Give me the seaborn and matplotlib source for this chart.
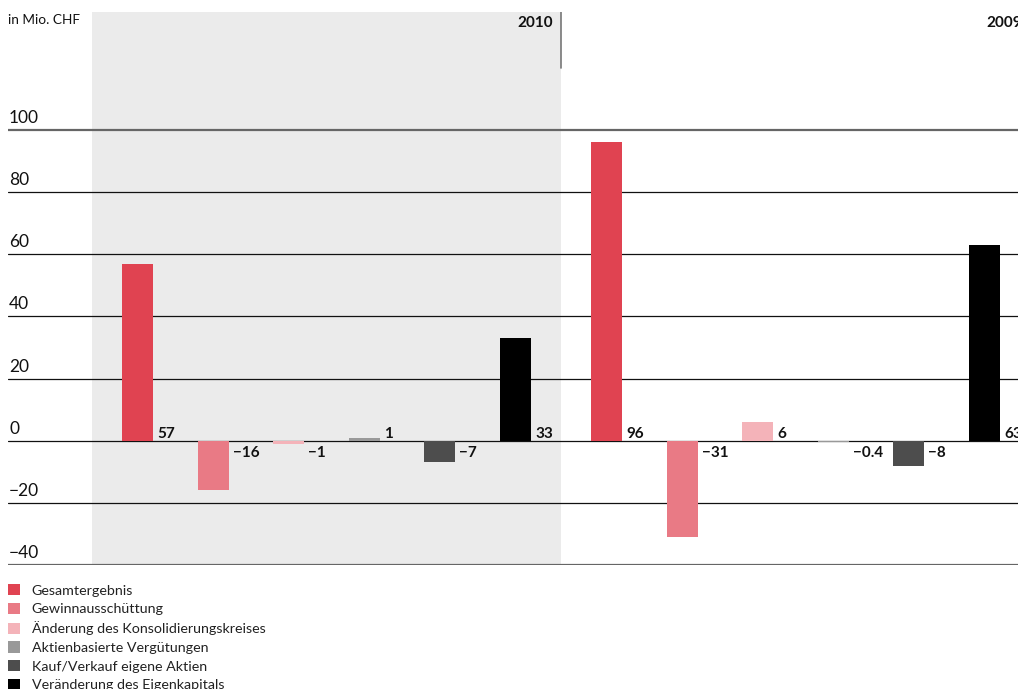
import matplotlib
matplotlib.use("Agg")
import matplotlib.pyplot as plt
import matplotlib.transforms as mtransforms
import seaborn as sns
import pandas as pd

years = ["2010", "2009"]
categories = [
    "Gesamtergebnis",
    "Gewinnausschüttung",
    "Änderung des Konsolidierungskreises",
    "Aktienbasierte Vergütungen",
    "Kauf/Verkauf eigene Aktien",
    "Veränderung des Eigenkapitals",
]
values_2010 = [57, -16, -1, 1, -7, 33]
values_2009 = [96, -31, 6, -0.4, -8, 63]
labels_2010 = ["57", "\u221216", "\u22121", "1", "\u22127", "33"]
labels_2009 = ["96", "\u221231", "6", "\u22120.4", "\u22128", "63"]
colors = ["#E04351", "#E97A85", "#F4B3B9", "#999999", "#4D4D4D", "#000000"]
yticks = [-40, -20, 0, 20, 40, 60, 80, 100]
ytick_labels = ["\u221240", "\u221220", "0", "20", "40", "60", "80", "100"]
unit_label = "in Mio. CHF"

df = pd.DataFrame({
    "year": [years[0]] * len(categories) + [years[1]] * len(categories),
    "category": categories + categories,
    "value": values_2010 + values_2009,
})

sns.set_theme(style="white")
plt.rcParams["font.family"] = ["Lato", "DejaVu Sans"]

W, H = 1018, 689
fig = plt.figure(figsize=(W / 100, H / 100), dpi=100)
ax = fig.add_axes([8 / W, (H - 565) / H, 1 - 8 / W, (565 - 12) / H])

ax.axvspan(-0.5, 0.5, color="#EBEBEB", zorder=0.1, lw=0)

sns.barplot(data=df, x="year", y="value", hue="category", order=years,
            hue_order=categories, palette=colors, width=0.967, gap=0.59,
            saturation=1, errorbar=None, ax=ax, zorder=2, linewidth=0)

ax.set_xlim(-0.5 - 84 / 469, -0.5 + 926 / 469)
ax.set_ylim(-40, 138)
ax.set_yticks(yticks)
ax.set_yticklabels([])
ax.set_xticks([])
ax.set_xlabel("")
ax.set_ylabel("")
ax.tick_params(length=0)
for s in ax.spines.values():
    s.set_visible(False)
ax.set_axisbelow(True)
ax.yaxis.grid(True, color="#111111", lw=0.9)
gl = ax.yaxis.get_gridlines()
gl[0].set_color("#666666"); gl[0].set_linewidth(1.6)
gl[-1].set_color("#666666"); gl[-1].set_linewidth(1.6)

blend = mtransforms.blended_transform_factory(ax.transAxes, ax.transData)
for v, lab in zip(yticks, ytick_labels):
    ax.annotate(lab, (0, v), xycoords=blend, xytext=(1, 7),
                textcoords="offset pixels", ha="left", va="baseline",
                fontsize=12.5, color="#111111")

# value labels
all_labels = [labels_2010, labels_2009]
for ci, cont in enumerate(ax.containers):
    for yi, bar in enumerate(cont):
        val = bar.get_height()
        x = bar.get_x() + bar.get_width()
        lab = all_labels[yi][ci]
        if val >= 0:
            ax.annotate(lab, (x, 0), xytext=(4, 3), textcoords="offset pixels",
                        ha="left", va="baseline", fontsize=11, fontweight="bold",
                        color="#111111")
        else:
            ax.annotate(lab, (x, 0), xytext=(4, -5), textcoords="offset pixels",
                        ha="left", va="top", fontsize=11, fontweight="bold",
                        color="#111111")

# year labels and separator
for i, yr in enumerate(years):
    ax.annotate(yr, (i + 0.5, 138), xytext=(-8, -4), textcoords="offset pixels",
                ha="right", va="top", fontsize=11, fontweight="bold", color="#111111",
                annotation_clip=False)
ax.plot([0.5, 0.5], [138, 120], color="#777777", lw=1.2, zorder=3)

fig.text(8 / W, 1 - 20 / H, unit_label, ha="left", va="center", fontsize=9.8,
         color="#111111")

sns.move_legend(ax, loc="upper left", bbox_to_anchor=(8 / W, 1 - 584 / H),
                bbox_transform=fig.transFigure, frameon=False, title=None,
                fontsize=10.3, handlelength=0.85, handleheight=0.85,
                handletextpad=0.8, labelspacing=0.42, borderpad=0,
                borderaxespad=0)
for t in ax.get_legend().get_texts():
    t.set_color("#222222")

fig.savefig("out.png", dpi=100)
